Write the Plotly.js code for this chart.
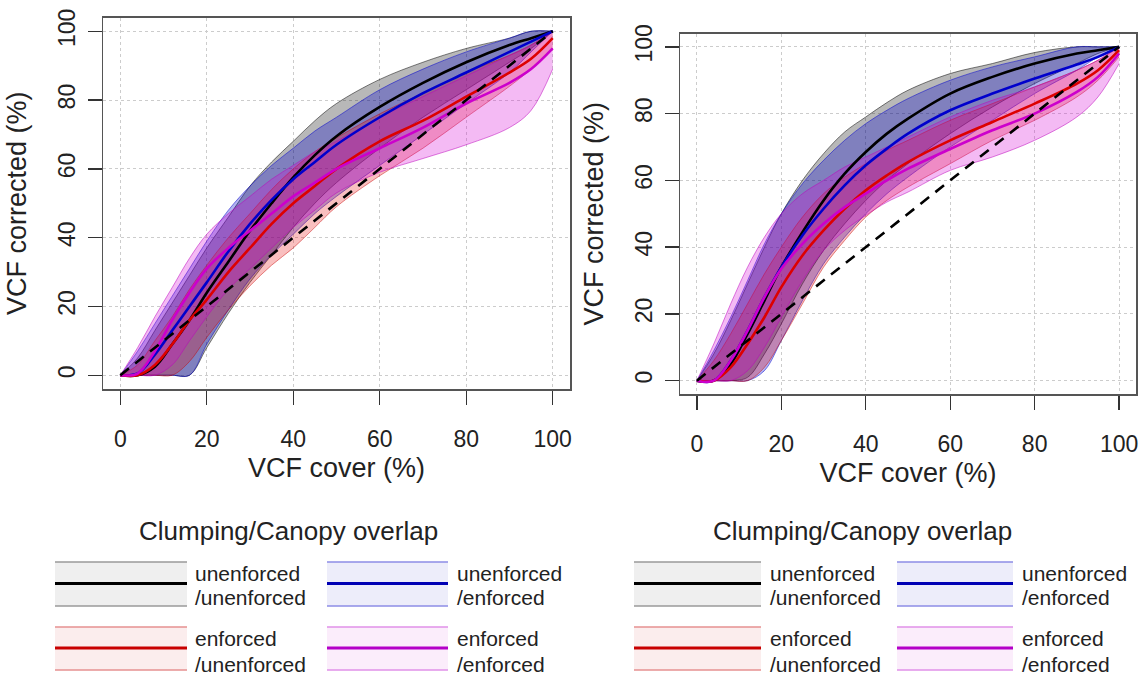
<!DOCTYPE html>
<html>
<head>
<meta charset="utf-8">
<script src="https://cdn.plot.ly/plotly-3.0.1.min.js"></script>
<style>html,body{margin:0;padding:0;background:#fff;}#chart{width:1142px;height:677px;}</style>
</head>
<body>
<div id="chart"></div>
<script>
// ---------------- data ----------------
const xs = [0, 4, 8, 12, 16, 20, 25, 30, 35, 40, 45, 50, 60, 70, 80, 90, 95, 100];

// Left panel
const A_uu_mean  = [0, 0, 2.5, 9, 16, 24, 33, 42, 50, 57.5, 64, 69.5, 78, 85, 91, 96, 98, 100];
const A_uu_upper = [0, 5, 13, 21, 29, 37, 46, 55, 62, 68, 74, 79, 86, 91, 95, 98, 100, 100];
const A_uu_lower = [0, 0, 0, 0, 0, 8, 18, 27, 35, 43, 50, 56, 66, 75, 83, 91, 95, 100];
const A_ue_mean  = [0, 0.5, 6, 13, 20, 27, 36, 44, 51, 57, 62, 67, 75, 82, 88, 94, 97, 100];
const A_ue_upper = [0, 7, 15, 23, 31, 39, 48, 55, 61, 66, 71, 75, 83, 89, 94, 98, 100, 100];
const A_ue_lower = [0, 0, 0, 0, 0, 9, 19, 28, 35, 41, 47, 52, 61, 70, 79, 88, 94, 100];
const A_eu_mean  = [0, 0, 3, 9, 16, 22, 30, 37, 44, 50, 55, 60, 68, 74, 81, 88, 92, 98];
const A_eu_upper = [0, 3, 10, 17, 25, 32, 40, 47, 54, 60, 65, 69, 76, 82, 88, 93, 96, 100];
const A_eu_lower = [0, 0, 0, 0, 4, 11, 19, 26, 32, 37, 43, 49, 58, 66, 75, 84, 89, 95];
const A_ee_mean  = [0, 0.5, 7, 16, 24, 31, 37, 42, 47, 52, 56, 60, 66, 72, 79, 85, 89, 95];
const A_ee_upper = [0, 8, 17, 25.5, 34, 41, 47, 52, 57, 61, 65, 68, 75, 81, 87, 93, 96, 100];
const A_ee_lower = [0, 0, 0, 3, 10, 17, 25, 31, 37, 43, 48, 53, 59, 63, 67, 72, 77, 89];

// Right panel
const B_uu_mean  = [0, 0, 5, 14, 24, 34, 44.5, 54, 62, 68.5, 74, 78.5, 86, 91, 95, 98, 99, 100];
const B_uu_upper = [0, 8, 18, 29, 40, 50, 60, 68, 74.5, 79, 83.3, 87, 92, 95, 98.3, 100, 100, 100];
const B_uu_lower = [0, 0, 0, 1, 8, 17, 29, 39, 47, 54, 60, 65, 74, 82, 89, 95, 98, 100];
const B_ue_mean  = [0, 0, 6, 15, 25, 34, 43.5, 51.5, 58.5, 64.5, 69.5, 74, 81, 86, 90.5, 94.7, 97, 100];
const B_ue_upper = [0, 9, 19, 30, 41, 50, 59, 66, 72, 77, 81, 84.5, 90, 94, 97, 100, 100, 100];
const B_ue_lower = [0, 0, 0, 0, 3, 12, 24, 35, 43, 50, 56, 61, 70, 78, 86, 93, 97, 100];
const B_eu_mean  = [0, 0, 4, 11, 19, 28, 37.5, 45, 51.5, 57, 61.5, 65.5, 72, 77.5, 83, 89, 93, 99];
const B_eu_upper = [0, 6, 14, 23, 32, 40, 49, 56, 61, 65, 69, 72, 78, 83, 88, 93, 96, 100];
const B_eu_lower = [0, 0, 0, 0, 4, 12, 23, 34, 42, 49, 54, 58, 65, 72, 78, 85, 90, 97];
const B_ee_mean  = [0, 0, 6, 15, 25, 33.5, 41, 47, 52, 56, 60, 63.5, 69.4, 75, 80, 86.5, 91, 98];
const B_ee_upper = [0, 11, 23, 34, 43, 50, 56, 60, 64, 67, 70, 73, 79, 84, 88, 93, 96, 100];
const B_ee_lower = [0, 0, 0, 3, 10, 19, 30, 39, 45, 49.5, 53.5, 56.5, 63, 67, 72, 79, 85, 95];

// 1:1 reference line
const refX = [0, 100];
const refY = [0, 100];

const tickVals = [0, 20, 40, 60, 80, 100];
const groupNames = ['unenforced/unenforced', 'unenforced/enforced', 'enforced/unenforced', 'enforced/enforced'];
const legendLine1 = ['unenforced', 'unenforced', 'enforced', 'enforced'];
const legendLine2 = ['/unenforced', '/enforced', '/unenforced', '/enforced'];
const legendTitle = 'Clumping/Canopy overlap';
const xTitle = 'VCF cover (%)';
const yTitle = 'VCF corrected (%)';

// ---------------- styles ----------------
const FONT = 'Liberation Sans, Arial, Helvetica, sans-serif';
const styles = [
  {fill: 'rgba(0,0,0,0.28)',    edge: 'rgba(0,0,0,0.5)',      mean: '#000000', lfill: '#efefef', ledge: '#9a9a9a', lmean: '#000000'},
  {fill: 'rgba(0,0,205,0.3)',   edge: 'rgba(0,0,205,0.5)',    mean: '#0000cc', lfill: '#ededfa', ledge: '#8c8ce6', lmean: '#0000b4'},
  {fill: 'rgba(230,0,0,0.25)',  edge: 'rgba(200,0,0,0.45)',   mean: '#dd0000', lfill: '#fbeded', ledge: '#e69090', lmean: '#c80000'},
  {fill: 'rgba(215,0,215,0.27)',edge: 'rgba(190,0,190,0.5)',  mean: '#cc00cc', lfill: '#fbedfb', ledge: '#e090e8', lmean: '#b400c8'}
];

const panels = [
  {xa: 'x', ya: 'y', series: [[A_uu_mean, A_uu_upper, A_uu_lower], [A_ue_mean, A_ue_upper, A_ue_lower], [A_eu_mean, A_eu_upper, A_eu_lower], [A_ee_mean, A_ee_upper, A_ee_lower]]},
  {xa: 'x2', ya: 'y2', series: [[B_uu_mean, B_uu_upper, B_uu_lower], [B_ue_mean, B_ue_upper, B_ue_lower], [B_eu_mean, B_eu_upper, B_eu_lower], [B_ee_mean, B_ee_upper, B_ee_lower]]}
];

const traces = [];
const LS = {shape: 'spline', smoothing: 1};
panels.forEach(p => {
  p.series.forEach((s, i) => {
    traces.push({x: xs, y: s[2], xaxis: p.xa, yaxis: p.ya, type: 'scatter', mode: 'lines',
      line: Object.assign({color: styles[i].edge, width: 1}, LS), name: groupNames[i] + ' lower',
      showlegend: false, hoverinfo: 'skip'});
    traces.push({x: xs, y: s[1], xaxis: p.xa, yaxis: p.ya, type: 'scatter', mode: 'lines',
      fill: 'tonexty', fillcolor: styles[i].fill,
      line: Object.assign({color: styles[i].edge, width: 1}, LS), name: groupNames[i] + ' upper',
      showlegend: false, hoverinfo: 'skip'});
  });
  p.series.forEach((s, i) => {
    traces.push({x: xs, y: s[0], xaxis: p.xa, yaxis: p.ya, type: 'scatter', mode: 'lines',
      line: Object.assign({color: styles[i].mean, width: 2.6}, LS), name: groupNames[i], showlegend: false});
  });
  traces.push({x: refX, y: refY, xaxis: p.xa, yaxis: p.ya, type: 'scatter', mode: 'lines',
    line: {color: '#000', width: 2.6, dash: '11px,8px'}, name: '1:1', showlegend: false, hoverinfo: 'skip'});
});

// ---------------- layout ----------------
const W = 1142, H = 677;
const fx = v => v / W;
const fy = v => 1 - v / H;

function xAxis(d0, d1, anchor) {
  return {domain: [fx(d0), fx(d1)], anchor: anchor, range: [-4, 104], tickmode: 'array', tickvals: tickVals,
    ticks: 'outside', ticklen: 14, tickwidth: 1.4, tickcolor: '#333',
    showline: true, mirror: true, linecolor: '#555', linewidth: 1.5,
    showgrid: true, gridcolor: '#cccccc', griddash: 'dot', gridwidth: 1, zeroline: false,
    tickfont: {family: FONT, size: 23, color: '#222'}, ticklabelstandoff: 15,
    title: {text: xTitle, font: {family: FONT, size: 27, color: '#222'}, standoff: 7},
    automargin: false, fixedrange: true};
}
function yAxis(d0, d1, anchor) {
  return {domain: [fy(d1), fy(d0)], anchor: anchor, range: [-4, 104], tickmode: 'array', tickvals: tickVals,
    ticks: 'outside', ticklen: 14, tickwidth: 1.4, tickcolor: '#333', tickangle: -90,
    showline: true, mirror: true, linecolor: '#555', linewidth: 1.5,
    showgrid: true, gridcolor: '#cccccc', griddash: 'dot', gridwidth: 1, zeroline: false,
    tickfont: {family: FONT, size: 23, color: '#222'}, ticklabelstandoff: 3,
    title: {text: yTitle, font: {family: FONT, size: 27, color: '#222'}, standoff: 20},
    automargin: false, fixedrange: true};
}

const shapes = [];
const annotations = [];
const legends = [
  {title: 288, cols: [[55, 187, 193], [327, 448, 455]]},
  {title: 862, cols: [[634, 761, 768], [897, 1013, 1020]]}
];
const rows = [[562, 583.5, 606, 573, 597], [627, 648, 670, 638, 664]];
legends.forEach(L => {
  annotations.push({xref: 'paper', yref: 'paper', x: fx(L.title), y: fy(531), xanchor: 'center', yanchor: 'middle',
    text: legendTitle, showarrow: false, font: {family: FONT, size: 26, color: '#222'}});
  for (let i = 0; i < 4; i++) {
    const c = L.cols[i % 2], r = rows[Math.floor(i / 2)], st = styles[i];
    shapes.push({type: 'rect', xref: 'paper', yref: 'paper', x0: fx(c[0]), x1: fx(c[1]), y0: fy(r[2]), y1: fy(r[0]),
      fillcolor: st.lfill, line: {width: 0}, layer: 'above'});
    shapes.push({type: 'line', xref: 'paper', yref: 'paper', x0: fx(c[0]), x1: fx(c[1]), y0: fy(r[0]), y1: fy(r[0]),
      line: {color: st.ledge, width: 1.5}});
    shapes.push({type: 'line', xref: 'paper', yref: 'paper', x0: fx(c[0]), x1: fx(c[1]), y0: fy(r[2]), y1: fy(r[2]),
      line: {color: st.ledge, width: 1.5}});
    shapes.push({type: 'line', xref: 'paper', yref: 'paper', x0: fx(c[0]), x1: fx(c[1]), y0: fy(r[1]), y1: fy(r[1]),
      line: {color: st.lmean, width: 3}});
    annotations.push({xref: 'paper', yref: 'paper', x: fx(c[2]), y: fy(r[3]), xanchor: 'left', yanchor: 'middle',
      text: legendLine1[i], showarrow: false, font: {family: FONT, size: 21, color: '#222'}});
    annotations.push({xref: 'paper', yref: 'paper', x: fx(c[2]), y: fy(r[4]), xanchor: 'left', yanchor: 'middle',
      text: legendLine2[i], showarrow: false, font: {family: FONT, size: 21, color: '#222'}});
  }
});

const layout = {
  width: W, height: H, margin: {l: 0, r: 0, t: 0, b: 0},
  paper_bgcolor: '#fff', plot_bgcolor: '#fff', showlegend: false,
  font: {family: FONT, color: '#222'},
  xaxis: xAxis(103, 570, 'y'),
  yaxis: yAxis(17.5, 389, 'x'),
  xaxis2: xAxis(680, 1136, 'y2'),
  yaxis2: yAxis(33.5, 394, 'x2'),
  shapes: shapes,
  annotations: annotations
};

Plotly.newPlot('chart', traces, layout, {staticPlot: true, displayModeBar: false});
</script>
</body>
</html>
